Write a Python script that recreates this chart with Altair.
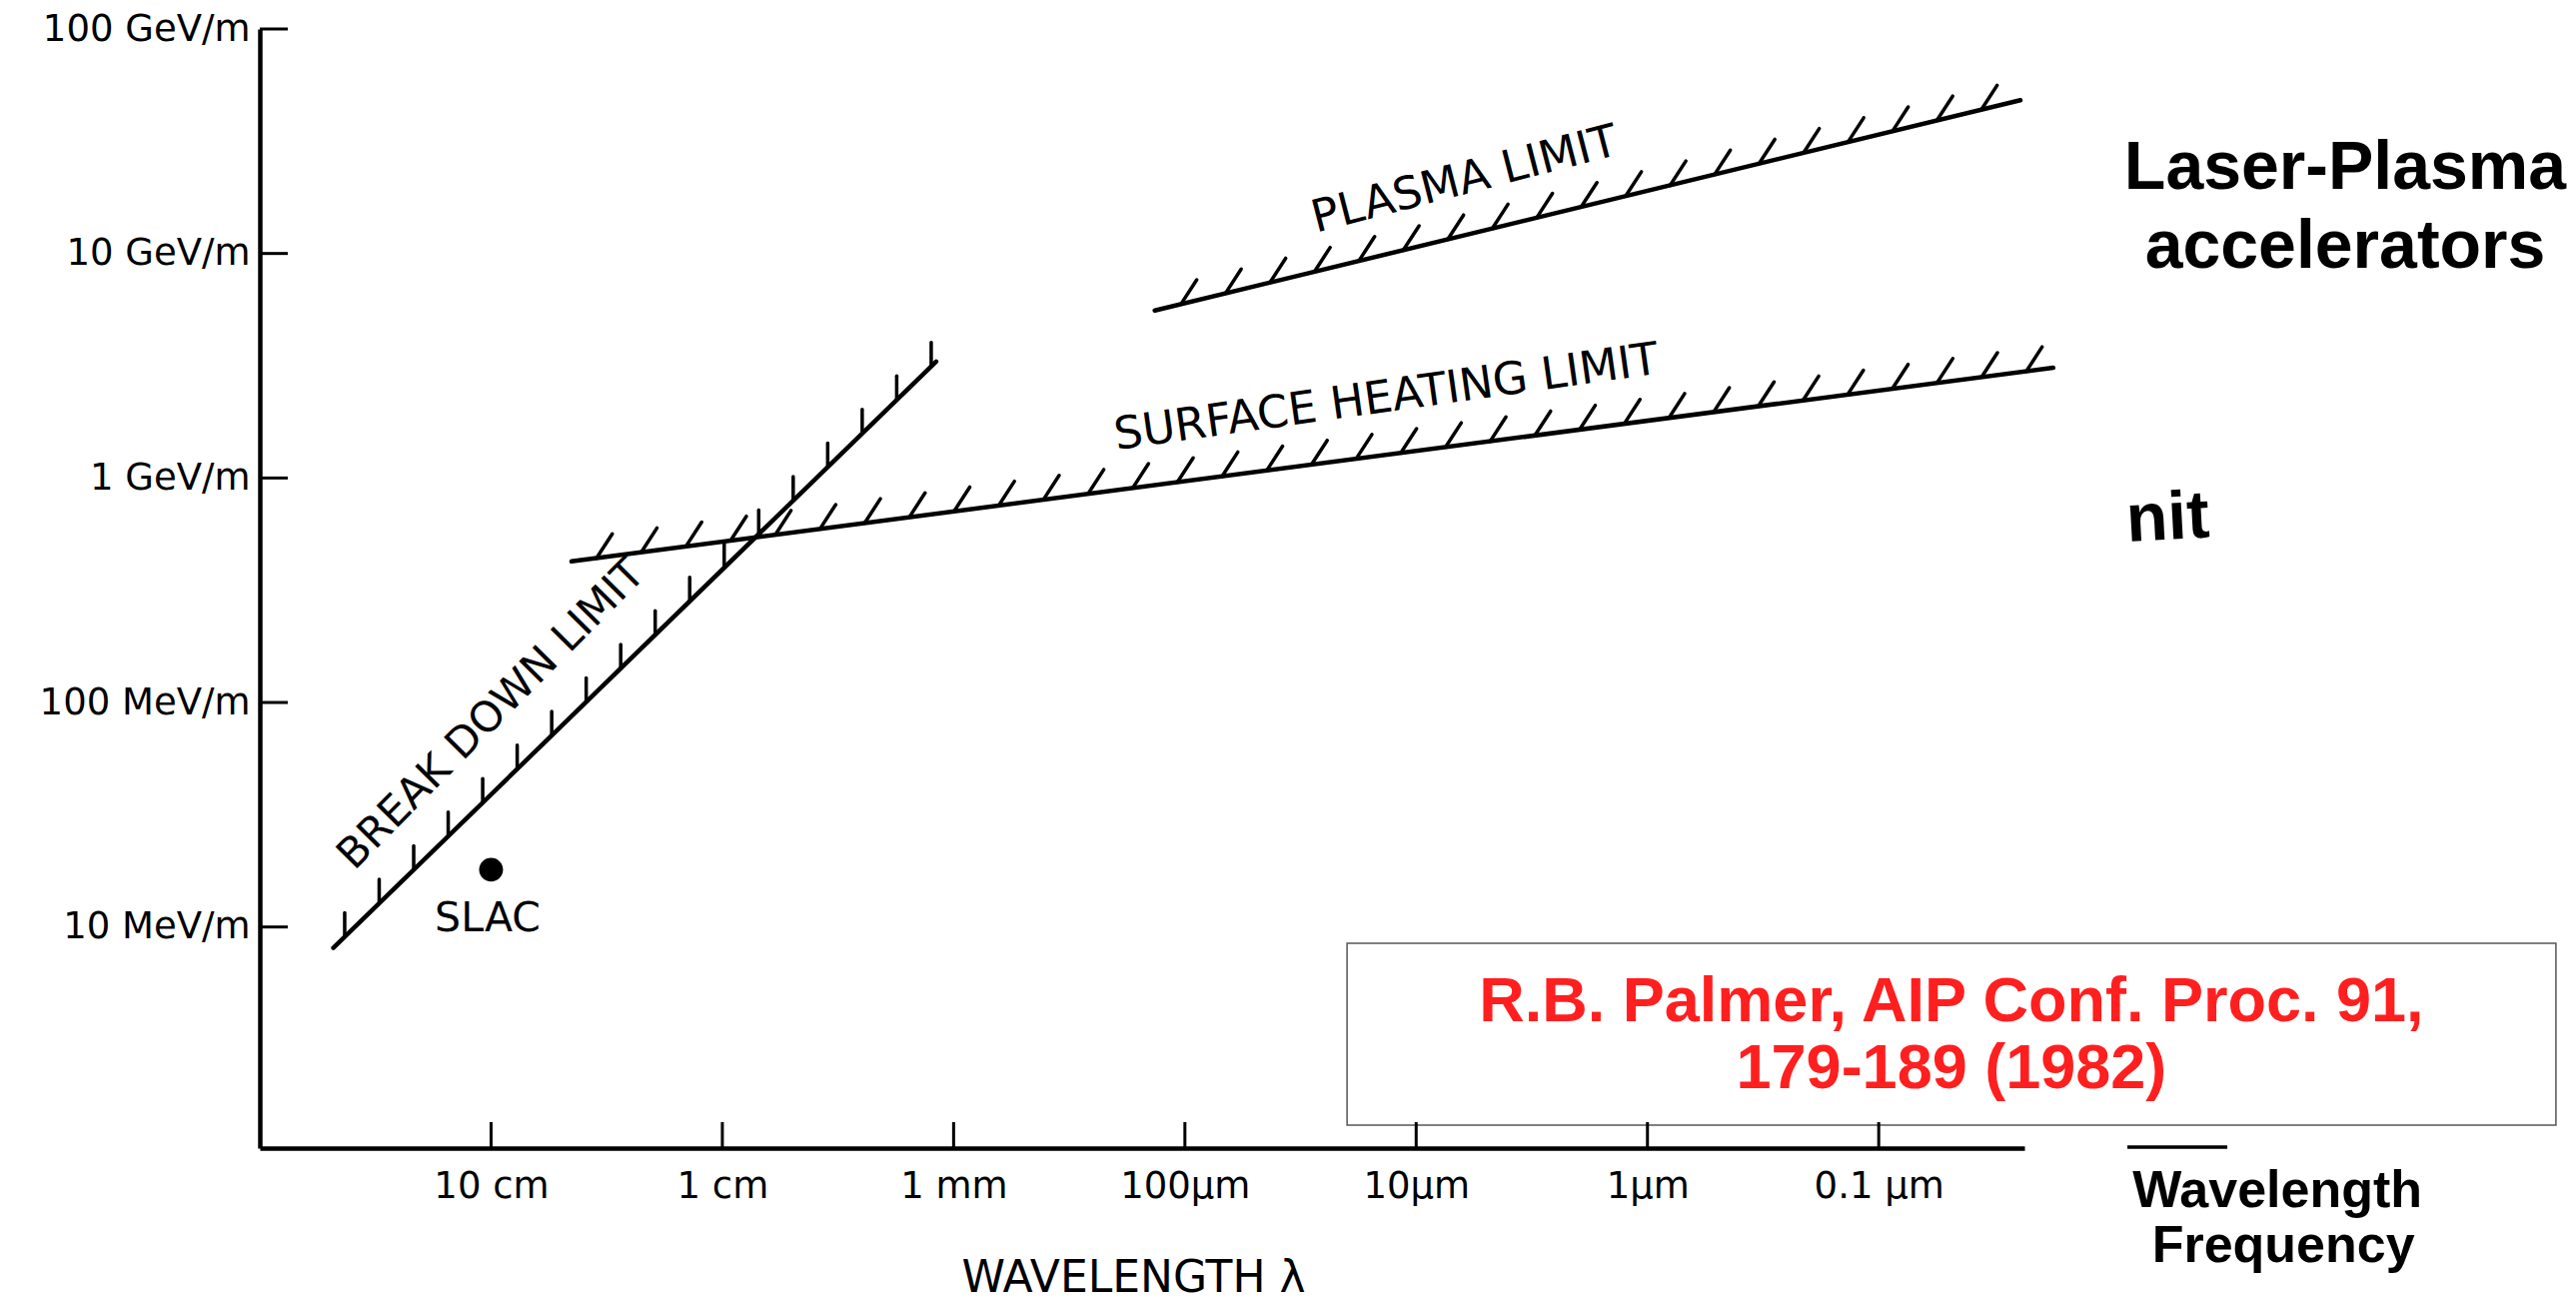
import altair as alt
import numpy as np
import pandas as pd

# ------------------------------------------------------------------ data
# axis ticks (wavelength in metres, gradient in eV/m)
x_tick_values = [1e-1, 1e-2, 1e-3, 1e-4, 1e-5, 1e-6, 1e-7]
x_tick_labels = ["10 cm", "1 cm", "1 mm", "100μm", "10μm", "1μm", "0.1 μm"]
y_tick_values = [1e7, 1e8, 1e9, 1e10, 1e11]
y_tick_labels = ["10 MeV/m", "100 MeV/m", "1 GeV/m", "10 GeV/m", "100 GeV/m"]

# limit lines: start / end points
limit_names = ["BREAK DOWN LIMIT", "SURFACE HEATING LIMIT", "PLASMA LIMIT"]
limit_lam_start = [0.481, 0.0449, 1.35e-4]
limit_lam_end = [1.19e-3, 1.76e-8, 2.44e-8]
limit_E_start = [8.07e6, 4.25e8, 5.57e9]
limit_E_end = [3.30e9, 3.10e9, 4.82e10]

# hatch marks along each limit line (count, first and last wavelength)
hatch_count = [18, 33, 19]
hatch_lam_first = [0.4295, 0.035, 1.04e-4]
hatch_lam_last = [1.25e-3, 2.30e-8, 3.6e-8]

# SLAC point
slac_lam = [0.1]
slac_E = [1.8e7]

# labels drawn on the figure
label_text = ["BREAK DOWN LIMIT", "SURFACE HEATING LIMIT", "PLASMA LIMIT", "SLAC"]
label_lam = [0.0998, 1.346e-5, 6.17e-6, 0.1035]
label_E = [8.85e7, 2.28e9, 2.13e10, 1.077e7]
label_angle = [314.7, 352, 345.5, 0]
label_size = [42, 45, 45, 41]

# slide overlay texts
over_text = ["Laser-Plasma", "accelerators", "Wavelength", "Frequency"]
over_lam = [9.62e-10, 9.62e-10, 1.89e-9, 1.78e-9]
over_E = [1.94e10, 8.63e9, 5.66e5, 3.22e5]
over_size = [68, 68, 52, 52]
nit_text = ["nit"]
nit_lam = [8.41e-9]
nit_E = [5.21e8]

# citation box
box_lam = [1.99e-5, 1.18e-10]
box_E = [8.47e6, 1.31e6]
cite_text = ["R.B. Palmer, AIP Conf. Proc. 91,", "179-189 (1982)"]
cite_lam = [4.85e-8, 4.85e-8]
cite_E = [4.62e6, 2.33e6]

# short stroke above "Wavelength"
stroke_lam = [8.41e-9, 3.11e-9]
stroke_E = [1.047e6]

# ------------------------------------------------------------------ layout
W, H = 1766, 1120
xs = alt.Scale(type="log", domain=[10 ** -7.63, 1.0], reverse=True, nice=False)
ys = alt.Scale(type="log", domain=[10 ** 6.015, 1e11], nice=False)


def label_expr(values, labels):
    parts = [
        f"abs(log(datum.value)/LN10 - ({np.log10(v):.0f})) < 0.1 ? '{l}'"
        for v, l in zip(values, labels)
    ]
    return " : ".join(parts) + " : ''"


x_axis = alt.Axis(
    values=x_tick_values, labelExpr=label_expr(x_tick_values, x_tick_labels),
    ticks=False, grid=False, domainColor="black", domainWidth=4.5,
    labelFont="DejaVu Sans", labelFontSize=37, labelColor="black",
    labelPadding=20, labelFlush=False, labelOverlap=False, labelLimit=0,
    title="WAVELENGTH λ", titleFont="DejaVu Sans", titleFontSize=44,
    titleFontWeight="normal", titleColor="black", titleX=874, titleY=130,
    titleBaseline="middle", titleAlign="center",
)
y_axis = alt.Axis(
    values=y_tick_values, labelExpr=label_expr(y_tick_values, y_tick_labels),
    ticks=False, grid=False, domainColor="black", domainWidth=4.5,
    labelFont="DejaVu Sans", labelFontSize=37, labelColor="black",
    labelPadding=10, labelFlush=False, labelOverlap=False, labelLimit=0, title=None,
)


def X(field):
    return alt.X(field, type="quantitative", scale=xs, axis=x_axis)


def Y(field):
    return alt.Y(field, type="quantitative", scale=ys, axis=y_axis)


# limit lines
rows = []
for n, l0, l1, e0, e1 in zip(limit_names, limit_lam_start, limit_lam_end,
                             limit_E_start, limit_E_end):
    rows.append({"limit": n, "lam": l0, "E": e0, "o": 0})
    rows.append({"limit": n, "lam": l1, "E": e1, "o": 1})
lines_df = pd.DataFrame(rows)

lines = alt.Chart(lines_df).mark_line(color="black", strokeWidth=4.5, strokeCap="round").encode(
    x=X("lam"), y=Y("E"), detail="limit:N", order="o:Q")

# hatch positions along each straight limit line (decoration)
hrows = []
for i, n in enumerate(limit_names):
    a0, a1 = np.log10(limit_lam_start[i]), np.log10(limit_lam_end[i])
    b0, b1 = np.log10(limit_E_start[i]), np.log10(limit_E_end[i])
    for la in np.linspace(np.log10(hatch_lam_first[i]), np.log10(hatch_lam_last[i]), hatch_count[i]):
        t = (la - a0) / (a1 - a0)
        hrows.append({"limit": n, "lam": 10 ** la, "E": 10 ** (b0 + t * (b1 - b0))})
hatch_df = pd.DataFrame(hrows)

hatch_vertical = alt.Chart(hatch_df[hatch_df.limit == limit_names[0]]).mark_point(
    shape="M0,0 L0,-1", filled=False, stroke="black", strokeWidth=3.5,
    size=48 * 48, opacity=1, strokeCap="round").encode(x=X("lam"), y=Y("E"))
hatch_slant = alt.Chart(hatch_df[hatch_df.limit != limit_names[0]]).mark_point(
    shape="M0,0 L0.545,-0.839", filled=False, stroke="black", strokeWidth=3.5,
    size=58 * 58, opacity=1, strokeCap="round").encode(x=X("lam"), y=Y("E"))

slac = alt.Chart(pd.DataFrame({"lam": slac_lam, "E": slac_E})).mark_circle(
    color="black", size=570, opacity=1).encode(x=X("lam"), y=Y("E"))

labels = alt.Chart(pd.DataFrame({"t": label_text, "lam": label_lam, "E": label_E,
                                 "a": label_angle, "fs": label_size})).mark_text(
    font="DejaVu Sans", color="black", align="center", baseline="middle").encode(
    x=X("lam"), y=Y("E"), text="t:N",
    angle=alt.Angle("a:Q", scale=None), size=alt.Size("fs:Q", scale=None))

box = alt.Chart(pd.DataFrame({"l0": [box_lam[0]], "l1": [box_lam[1]],
                              "e0": [box_E[0]], "e1": [box_E[1]]})).mark_rect(
    fill="white", stroke="#555555", strokeWidth=1.5).encode(
    x=X("l0"), x2="l1", y=Y("e0"), y2="e1")

cite = alt.Chart(pd.DataFrame({"t": cite_text, "lam": cite_lam, "E": cite_E})).mark_text(
    font="Liberation Sans", fontSize=63, fontWeight="bold", color="#ff1f1f",
    align="center", baseline="middle").encode(x=X("lam"), y=Y("E"), text="t:N")

xticks = alt.Chart(pd.DataFrame({"v": x_tick_values})).mark_rule(
    color="black", strokeWidth=3).encode(x=X("v"), y=alt.value(H), y2=alt.value(H - 26))
yticks = alt.Chart(pd.DataFrame({"v": y_tick_values})).mark_rule(
    color="black", strokeWidth=3).encode(y=Y("v"), x=alt.value(0), x2=alt.value(28))

overlay = alt.Chart(pd.DataFrame({"t": over_text, "lam": over_lam, "E": over_E,
                                  "fs": over_size})).mark_text(
    font="Liberation Sans", fontWeight="bold", color="black", align="center",
    baseline="alphabetic").encode(x=X("lam"), y=Y("E"), text="t:N",
                                  size=alt.Size("fs:Q", scale=None))
nit = alt.Chart(pd.DataFrame({"t": nit_text, "lam": nit_lam, "E": nit_E})).mark_text(
    font="Liberation Sans", fontWeight="bold", fontSize=68, color="black",
    align="left", baseline="alphabetic", angle=357).encode(x=X("lam"), y=Y("E"), text="t:N")
stroke = alt.Chart(pd.DataFrame({"l0": [stroke_lam[0]], "l1": [stroke_lam[1]],
                                 "E": stroke_E})).mark_rule(
    color="black", strokeWidth=3.5).encode(x=X("l0"), x2="l1", y=Y("E"))

chart = alt.layer(
    lines, hatch_vertical, hatch_slant, slac, labels, box, cite,
    xticks, yticks, overlay, nit, stroke,
).properties(
    width=W, height=H,
    autosize=alt.AutoSizeParams(type="none"),
    padding={"left": 260, "top": 29, "right": 552, "bottom": 153},
    background="white",
).configure_view(strokeWidth=0)

chart.save("out.html", embed_options={"renderer": "svg", "actions": False})
